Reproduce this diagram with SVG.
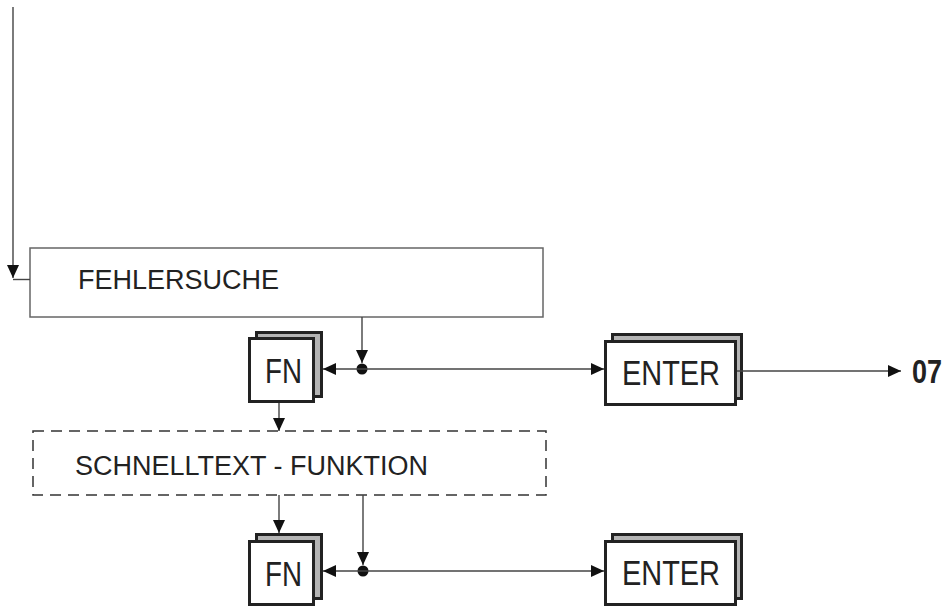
<svg xmlns="http://www.w3.org/2000/svg" width="950" height="610" viewBox="0 0 950 610">
<style>
.box{fill:#fff;stroke:#666;stroke-width:1.5}
.dbox{fill:#fff;stroke:#333;stroke-width:1.5;stroke-dasharray:11 7}
.back{fill:#b4b4b4;stroke:#222;stroke-width:3}
.front{fill:#fff;stroke:#222;stroke-width:3}
.lbl{font-family:"Liberation Sans",Arial,sans-serif;font-size:27px;fill:#222}
.key{font-family:"Liberation Sans",Arial,sans-serif;font-size:35px;fill:#222}
.big{font-family:"Liberation Sans",Arial,sans-serif;font-size:34px;font-weight:bold;fill:#222}
.ln{fill:none;stroke:#444;stroke-width:1.4}
.dot{fill:#111}
</style>
<defs>
<marker id="ah" viewBox="0 0 13 13" refX="13" refY="6.5" markerWidth="13" markerHeight="13" markerUnits="userSpaceOnUse" orient="auto">
<path d="M0,0.5 L13,6.5 L0,12.5 z" fill="#111"/>
</marker>
</defs>

<g id="fehlersuche">
<rect class="box" x="30" y="248" width="513" height="69"/>
<text class="lbl" x="78" y="289">FEHLERSUCHE</text>
</g>

<g id="fn1">
<rect class="back" x="256.5" y="332.5" width="65" height="64"/>
<rect class="front" x="249.5" y="338.5" width="64" height="63"/>
<text class="key" x="265" y="383" textLength="37" lengthAdjust="spacingAndGlyphs">FN</text>
</g>

<g id="enter1">
<rect class="back" x="612.5" y="334.5" width="129" height="64"/>
<rect class="front" x="605.5" y="341.5" width="130" height="63"/>
<text class="key" x="622" y="385" textLength="98" lengthAdjust="spacingAndGlyphs">ENTER</text>
</g>

<g id="target07">
<text class="big" x="912" y="383" textLength="30" lengthAdjust="spacingAndGlyphs">07</text>
</g>

<g id="schnelltext">
<rect class="dbox" x="33" y="431" width="513" height="64"/>
<text class="lbl" x="75" y="475">SCHNELLTEXT - FUNKTION</text>
</g>

<g id="fn2">
<rect class="back" x="256.5" y="534.5" width="65" height="64"/>
<rect class="front" x="249.5" y="541.5" width="64" height="63"/>
<text class="key" x="265" y="586" textLength="37" lengthAdjust="spacingAndGlyphs">FN</text>
</g>

<g id="enter2">
<rect class="back" x="612.5" y="534.5" width="129" height="64"/>
<rect class="front" x="605.5" y="541.5" width="130" height="63"/>
<text class="key" x="622" y="585" textLength="98" lengthAdjust="spacingAndGlyphs">ENTER</text>
</g>

<g id="connectors">
<path class="ln" d="M13,7 V278" marker-end="url(#ah)"/>
<path class="ln" d="M13,279.5 H30"/>
<path class="ln" d="M362,317 V363" marker-end="url(#ah)"/>
<circle class="dot" cx="362" cy="369" r="5.5"/>
<path class="ln" d="M362,369 H323" marker-end="url(#ah)"/>
<path class="ln" d="M362,369 H604" marker-end="url(#ah)"/>
<path class="ln" d="M737,371 H901" marker-end="url(#ah)"/>
<path class="ln" d="M279,403 V431" marker-end="url(#ah)"/>
<path class="ln" d="M279,495 V533" marker-end="url(#ah)"/>
<path class="ln" d="M363,495 V565" marker-end="url(#ah)"/>
<circle class="dot" cx="363" cy="571" r="5.5"/>
<path class="ln" d="M363,571 H323" marker-end="url(#ah)"/>
<path class="ln" d="M363,571 H604" marker-end="url(#ah)"/>
</g>
</svg>
